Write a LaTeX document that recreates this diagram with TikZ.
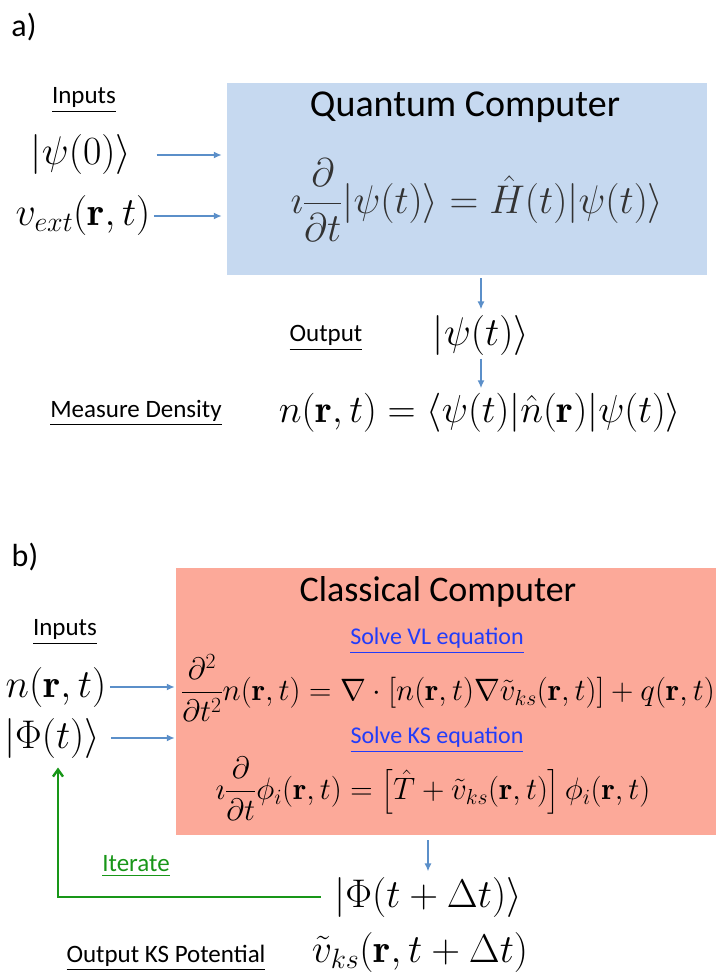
\documentclass[tikz,border=0pt]{standalone}
\usepackage{fix-cm}
\usepackage{amsmath}
\usepackage{fontspec}
\setsansfont{Carlito}
\usepackage{tikz}
\usetikzlibrary{calc,positioning,arrows.meta}

\definecolor{qcblue}{RGB}{198,217,240}
\definecolor{ccred}{RGB}{252,169,153}
\definecolor{flowblue}{RGB}{91,143,201}
\definecolor{itergreen}{RGB}{24,150,24}
\definecolor{linkblue}{RGB}{34,60,250}

\begin{document}
\begin{tikzpicture}[x=1pt,y=-1pt,
    tag/.style={font=\fontsize{32}{36}\selectfont\sffamily},
    title/.style={font=\fontsize{38}{44}\selectfont\sffamily},
    lbl/.style={font=\fontsize{25}{30}\selectfont\sffamily},
    link/.style={font=\fontsize{24}{28}\selectfont\sffamily,text=linkblue},
    big/.style={font=\fontsize{40}{46}\selectfont},
    eqn/.style={font=\fontsize{40}{46}\selectfont,inner sep=1pt},
    flow/.style={draw=flowblue,line width=1.8pt,-{Latex[length=8pt,width=7pt]}},
    iter/.style={draw=itergreen,line width=2.4pt,-{Straight Barb[length=7pt,width=10pt]}}]
\useasboundingbox (0,0) rectangle (717,973);

% a) quantum part
\node[tag] (taga) at (24,27) {a)};
\node[fill=qcblue,minimum width=480pt,minimum height=192pt,inner sep=0] (qc) at (467,179) {};
\node[title] (qctitle) at (465,107) {Quantum Computer};
\node[eqn,text=black!80] (tdse) at (477,200)
  {$\displaystyle \imath\frac{\partial}{\partial t}|\psi(t)\rangle = \hat{H}(t)|\psi(t)\rangle$};
\node[lbl] (ina) at (84,100) {\underline{Inputs}};
\node[big] (psi0) at (81,155) {$|\psi(0)\rangle$};
\node[big] (vext) at (83,216) {$v_{ext}(\mathbf{r},t)$};
\draw[flow,shorten <=22pt,shorten >=5pt] (psi0) -- (psi0 -| qc.west);
\draw[flow,shorten >=5pt] (vext) -- (vext -| qc.west);
\node[lbl] (outa) at (326,338) {\underline{Output}};
\node[big] (psit) at (481,335) {$|\psi(t)\rangle$};
\draw[flow,shorten <=3pt,shorten >=2pt] (qc.south -| psit) -- (psit);
\node[lbl] (meas) at (136,413) {\underline{Measure Density}};
\node[eqn,font=\fontsize{39}{45}\selectfont] (dens) at (480,413)
  {$n(\mathbf{r},t) = \langle\psi(t)|\hat{n}(\mathbf{r})|\psi(t)\rangle$};
\draw[flow,shorten >=4pt] (psit) -- (psit |- dens.north);

% b) classical part
\node[tag] (tagb) at (25,557) {b)};
\node[fill=ccred,minimum width=540pt,minimum height=267pt,inner sep=0] (cc) at (446,701.5) {};
\node[title,font=\fontsize{36}{42}\selectfont\sffamily] (cctitle) at (438,592) {Classical Computer};
\node[link] (solvevl) at (437,641) {\underline{Solve VL equation}};
\node[eqn,font=\fontsize{31}{36}\selectfont] (vleq) at (448,688)
  {$\displaystyle \frac{\partial^2}{\partial t^2}n(\mathbf{r},t) = \nabla\cdot\left[n(\mathbf{r},t)\nabla\tilde{v}_{ks}(\mathbf{r},t)\right] + q(\mathbf{r},t)$};
\node[link] (solveks) at (437,740) {\underline{Solve KS equation}};
\node[eqn,font=\fontsize{31}{36}\selectfont] (kseq) at (433,789)
  {$\displaystyle \imath\frac{\partial}{\partial t}\phi_i(\mathbf{r},t) = \left[\hat{T} + \tilde{v}_{ks}(\mathbf{r},t)\right]\phi_i(\mathbf{r},t)$};
\node[lbl] (inb) at (65,632) {\underline{Inputs}};
\node[big] (nrt) at (56,687) {$n(\mathbf{r},t)$};
\node[big] (Phit) at (52,738) {$|\Phi(t)\rangle$};
\draw[flow,shorten >=1pt] (nrt) -- (nrt -| cc.west);
\draw[flow,shorten <=8pt,shorten >=1pt] (Phit) -- (Phit -| cc.west);
\node[big] (Phinext) at (428,897) {$|\Phi(t+\Delta t)\rangle$};
\draw[flow,shorten <=5pt,shorten >=2pt] (cc.south -| Phinext) -- (Phinext);
\draw[iter,shorten <=10pt,shorten >=6pt] (Phinext.west) -| ([xshift=6pt]Phit.south);
\node[lbl,text=itergreen] (iterate) at (136,866) {\underline{Iterate}};
\node[lbl] (outb) at (166,958) {\underline{Output KS Potential}};
\node[big,inner sep=1pt] (vks) at (420,952) {$\tilde{v}_{ks}(\mathbf{r},t+\Delta t)$};
\end{tikzpicture}
\end{document}
